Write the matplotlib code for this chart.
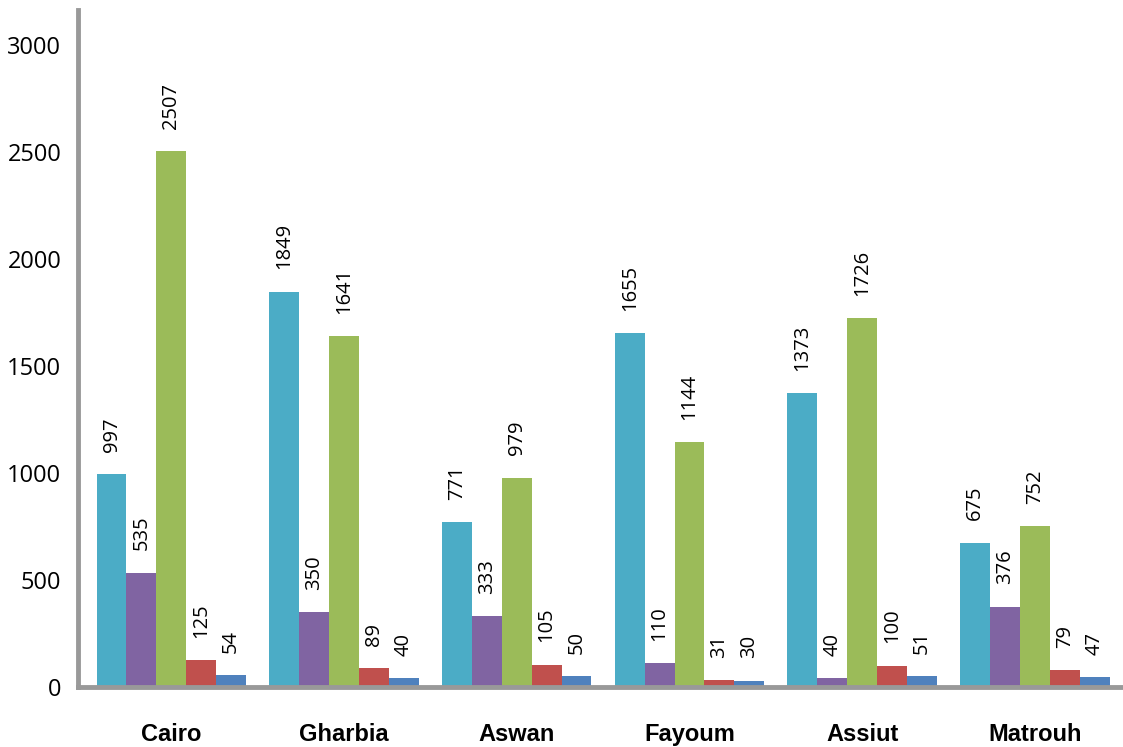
import numpy as np
import matplotlib.pyplot as plt

# Dati
regions = ['Cairo', 'Gharbia', 'Aswan', 'Fayoum', 'Assiut', 'Matrouh']
s1 = [997, 1849, 771, 1655, 1373, 675]
s2 = [535, 350, 333, 110, 40, 376]
s3 = [2507, 1641, 979, 1144, 1726, 752]
s4 = [125, 89, 105, 31, 100, 79]
s5 = [54, 40, 50, 30, 51, 47]
series = [s1, s2, s3, s4, s5]
colors = ['#4BACC6', '#8064A2', '#9BBB59', '#C0504D', '#4F81BD']
yticks = [0, 500, 1000, 1500, 2000, 2500, 3000]

plt.rcParams['font.family'] = ['Open Sans', 'DejaVu Sans']

fig = plt.figure(figsize=(11.23, 7.47), dpi=100)
ax = fig.add_axes([0.0695, 0.0803, 0.9305, 0.9063])

x = np.arange(len(regions))
w = 0.173
for i, vals in enumerate(series):
    pos = x + (i - 2) * w
    ax.bar(pos, vals, width=w, color=colors[i], edgecolor='none', zorder=2)
    for px, v in zip(pos, vals):
        ax.annotate(str(v), (px, v), xytext=(0, 16), textcoords='offset points',
                    rotation=90, ha='center', va='bottom', fontsize=14.5, color='black')

ax.set_xlim(-0.54, 5.51)
ax.set_ylim(0, 3165)
ax.set_yticks(yticks)
ax.set_yticklabels([str(t) for t in yticks], fontsize=17)
ax.set_xticks(x)
ax.set_xticklabels(regions, fontsize=17, fontweight='bold', family=['Liberation Sans'])
ax.tick_params(axis='y', length=0, pad=12)
ax.tick_params(axis='x', length=0, pad=26)

for side in ['top', 'right']:
    ax.spines[side].set_visible(False)
for side in ['left', 'bottom']:
    ax.spines[side].set_color('#999999')
    ax.spines[side].set_linewidth(3.5)
    ax.spines[side].set_zorder(3)

fig.savefig('out.png', dpi=100)
